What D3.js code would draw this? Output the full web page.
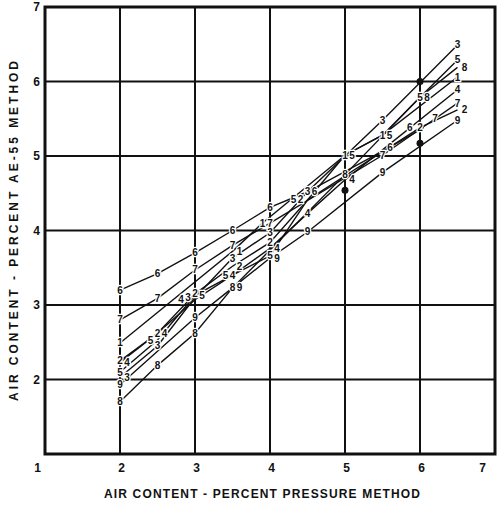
<!DOCTYPE html>
<html>
<head>
<meta charset="utf-8">
<script src="https://cdn.jsdelivr.net/npm/d3@7"></script>
<style>
  body { margin: 0; background: #fff; }
  svg text { font-family: "Liberation Sans", Arial, sans-serif; font-weight: bold; fill: #111; }
</style>
</head>
<body>
<div id="chart"></div>
<script>
// tick labels
var xTicks = [1, 2, 3, 4, 5, 6, 7];
var yTicks = [2, 3, 4, 5, 6, 7];

// series names
var seriesNames = ["1", "2", "3", "4", "5", "6", "7", "8", "9"];

// pressure method (x) and AE-55 method (y) per series
var x1 = [2, 3.5, 3.9, 5, 5.5, 6.5];
var y1 = [2.49, 3.72, 4.10, 5.01, 5.28, 6.06];
var x2 = [2, 2.5, 3, 3.5, 4, 4.5, 6, 6.5];
var y2 = [2.25, 2.62, 3.15, 3.52, 3.84, 4.41, 5.38, 5.62];
var x3 = [2, 2.5, 3, 3.5, 4, 4.5, 5.5, 6.5];
var y3 = [2.03, 2.45, 3.10, 3.63, 3.97, 4.52, 5.48, 6.49];
var x4 = [2, 2.5, 3, 3.5, 4, 4.5, 5, 6.5];
var y4 = [2.23, 2.62, 3.07, 3.40, 3.76, 4.23, 4.68, 5.89];
var x5 = [2, 2.5, 3, 3.5, 4, 4.5, 5, 5.5, 6, 6.5];
var y5 = [2.10, 2.53, 3.13, 3.40, 3.66, 4.41, 5.01, 5.28, 5.79, 6.29];
var x6 = [2, 2.5, 3, 3.5, 4, 4.5, 5.6, 6.05];
var y6 = [3.20, 3.42, 3.70, 4.00, 4.31, 4.52, 5.12, 5.38];
var x7 = [2, 2.5, 3, 3.5, 4, 5.5, 6.2, 6.5];
var y7 = [2.80, 3.09, 3.47, 3.80, 4.10, 5.01, 5.50, 5.71];
var x8 = [2, 2.5, 3, 3.5, 5, 6, 6.5];
var y8 = [1.70, 2.19, 2.62, 3.23, 4.75, 5.79, 6.19];
var x9 = [2, 3, 3.5, 4, 4.5, 5.5, 6.5];
var y9 = [1.93, 2.83, 3.23, 3.63, 3.98, 4.78, 5.48];

// points drawn as solid dots instead of numbers
var dotX = [6, 6, 5];
var dotY = [6.0, 5.17, 4.54];

var xs = [x1, x2, x3, x4, x5, x6, x7, x8, x9];
var ys = [y1, y2, y3, y4, y5, y6, y7, y8, y9];

var width = 500, height = 509;
var margin = { top: 7, right: 5, bottom: 55, left: 45 };

var x = d3.scaleLinear().domain([1, 7]).range([margin.left, width - margin.right]);
var y = d3.scaleLinear().domain([1, 7]).range([height - margin.bottom, margin.top]);

var svg = d3.select("#chart").append("svg")
  .attr("width", width)
  .attr("height", height);

// grid
svg.append("g")
  .selectAll("line")
  .data(xTicks.slice(1, -1))
  .enter().append("line")
  .attr("x1", function(d) { return x(d); })
  .attr("x2", function(d) { return x(d); })
  .attr("y1", y(1)).attr("y2", y(7))
  .attr("stroke", "#111").attr("stroke-width", 2);

svg.append("g")
  .selectAll("line")
  .data(yTicks.slice(0, -1))
  .enter().append("line")
  .attr("y1", function(d) { return y(d); })
  .attr("y2", function(d) { return y(d); })
  .attr("x1", x(1)).attr("x2", x(7))
  .attr("stroke", "#111").attr("stroke-width", 2);

// frame
svg.append("rect")
  .attr("x", x(1)).attr("y", y(7))
  .attr("width", x(7) - x(1)).attr("height", y(1) - y(7))
  .attr("fill", "none").attr("stroke", "#111").attr("stroke-width", 3);

// axes (labels only)
var xAxis = svg.append("g")
  .attr("transform", "translate(0," + y(1) + ")")
  .call(d3.axisBottom(x).tickValues(xTicks).tickSize(0).tickPadding(9).tickFormat(d3.format("d")));
xAxis.select(".domain").remove();
xAxis.selectAll("text")
  .style("font-size", "12px")
  .attr("dx", function(d) { return d === 1 ? -8 : d === 7 ? -13 : 1; });

var yAxis = svg.append("g")
  .attr("transform", "translate(" + x(1) + ",0)")
  .call(d3.axisLeft(y).tickValues(yTicks).tickSize(0).tickPadding(5).tickFormat(d3.format("d")));
yAxis.select(".domain").remove();
yAxis.selectAll("text").style("font-size", "12px");

// axis titles
svg.append("text")
  .attr("x", 262).attr("y", 498)
  .attr("text-anchor", "middle")
  .style("font-size", "12px")
  .attr("textLength", 316)
  .text("AIR CONTENT - PERCENT  PRESSURE METHOD");

svg.append("text")
  .attr("transform", "translate(18,231) rotate(-90)")
  .attr("text-anchor", "middle")
  .style("font-size", "12px")
  .attr("textLength", 340)
  .text("AIR CONTENT - PERCENT  AE-55 METHOD");

// series lines
var line = d3.line()
  .x(function(d) { return x(d[0]); })
  .y(function(d) { return y(d[1]); });

seriesNames.forEach(function(name, i) {
  svg.append("path")
    .attr("d", line(d3.zip(xs[i], ys[i])))
    .attr("fill", "none")
    .attr("stroke", "#111")
    .attr("stroke-width", 1.4);
});

// label placement: nudge sideways when two numbers would sit on top of each other
var labels = [];
seriesNames.forEach(function(name, i) {
  d3.zip(xs[i], ys[i]).forEach(function(p) {
    labels.push({ name: name, px: x(p[0]), py: y(p[1]) });
  });
});
labels.sort(function(a, b) { return a.py - b.py; });
var placed = [];
labels.forEach(function(l) {
  var tries = 0;
  while (tries < 6 && placed.some(function(q) {
    return Math.abs(q.px - l.px) < 7 && Math.abs(q.py - l.py) < 9;
  })) {
    l.px += (tries % 2 === 0 ? 7 : -14);
    if (tries % 2 === 1) l.px += 0;
    tries++;
  }
  placed.push(l);
});

svg.append("g")
  .selectAll("text")
  .data(placed)
  .enter().append("text")
  .attr("x", function(d) { return d.px; })
  .attr("y", function(d) { return d.py; })
  .attr("dy", "0.35em")
  .attr("text-anchor", "middle")
  .style("font-size", "10px")
  .style("paint-order", "stroke")
  .style("stroke", "#fff")
  .style("stroke-width", "2.5px")
  .text(function(d) { return d.name; });

svg.append("g")
  .selectAll("circle")
  .data(d3.zip(dotX, dotY))
  .enter().append("circle")
  .attr("cx", function(d) { return x(d[0]); })
  .attr("cy", function(d) { return y(d[1]); })
  .attr("r", 3.5)
  .attr("fill", "#111");
</script>
</body>
</html>
